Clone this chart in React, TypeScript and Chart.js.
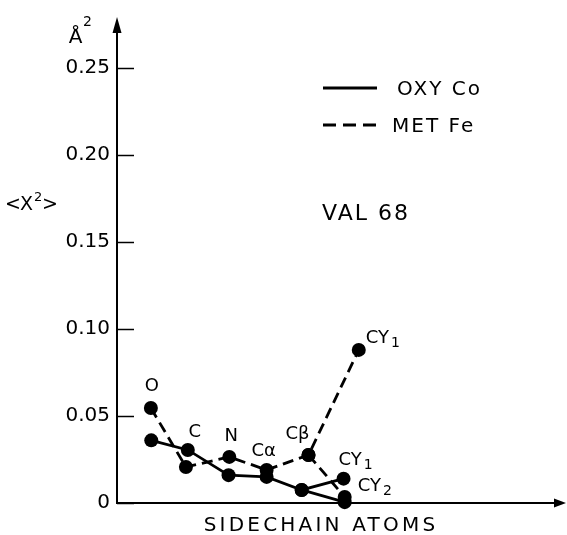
import React, { useEffect, useRef } from "react";
import { Chart, registerables } from "chart.js";

Chart.register(...registerables);

// ---- data ----
const atoms = ["O", "C", "N", "Cα", "Cβ", "CY1", "CY2"];
// OXY Co (solid)
const oxyCoX = [0.9, 1.86, 2.93, 3.93, 4.85, 5.95, 5.98];
const oxyCoY = [0.036, 0.0305, 0.016, 0.015, 0.0075, 0.014, 0.0005];
// MET Fe (dashed)
const metFeX = [0.89, 1.81, 2.95, 3.93, 5.03, 6.35, 5.98];
const metFeY = [0.0546, 0.0207, 0.0265, 0.019, 0.0276, 0.088, 0.0035];
// chain O-C-N-Cα-Cβ-CY1, branch Cβ-CY2
const mainChain = [0, 1, 2, 3, 4, 5];
const branchChain = [4, 6];

const yTicks = [0, 0.05, 0.1, 0.15, 0.2, 0.25];
const yTickLabels = ["0", "0.05", "0.10", "0.15", "0.20", "0.25"];
const seriesNames = ["OXY Co", "MET Fe"];
const panelLabel = "VAL 68";
const xTitle = "SIDECHAIN ATOMS";

const X_MAX = 11.53;
const Y_MAX = 0.2707;

const FONT = "'DejaVu Sans', sans-serif";

const pts = (xs: number[], ys: number[], idx: number[]) =>
  idx.map((i) => ({ x: xs[i], y: ys[i] }));

// label placement (styling): series 0 = OXY Co, 1 = MET Fe
const pointLabels = [
  { atom: 0, series: 1, dx: 1, dy: -22, align: "center", text: "O", sub: "" },
  { atom: 1, series: 0, dx: 7, dy: -18, align: "center", text: "C", sub: "" },
  { atom: 2, series: 1, dx: 2, dy: -21, align: "center", text: "N", sub: "" },
  { atom: 3, series: 1, dx: -3, dy: -19, align: "center", text: "Cα", sub: "" },
  { atom: 4, series: 1, dx: -11, dy: -21, align: "center", text: "Cβ", sub: "" },
  { atom: 5, series: 1, dx: 7, dy: -13, align: "left", text: "CY", sub: "1" },
  { atom: 5, series: 0, dx: -5, dy: -20, align: "left", text: "CY", sub: "1" },
  { atom: 6, series: 0, dx: 13, dy: -17, align: "left", text: "CY", sub: "2" },
];

const decorPlugin = {
  id: "decor",
  afterDraw(chart: any) {
    const ctx = chart.ctx as CanvasRenderingContext2D;
    const { left, top, right, bottom } = chart.chartArea;
    const xs = chart.scales.x;
    const ys = chart.scales.y;
    ctx.save();
    ctx.fillStyle = "#000";
    ctx.strokeStyle = "#000";

    // tick marks pointing inward
    ctx.lineWidth = 1.5;
    yTicks.forEach((v) => {
      const py = Math.round(ys.getPixelForValue(v)) + 0.5;
      ctx.beginPath();
      ctx.moveTo(left, py);
      ctx.lineTo(left + 17, py);
      ctx.stroke();
    });

    // arrows
    ctx.beginPath();
    ctx.moveTo(left, top - 15);
    ctx.lineTo(left - 4.5, top + 1);
    ctx.lineTo(left + 4.5, top + 1);
    ctx.closePath();
    ctx.fill();
    ctx.beginPath();
    ctx.moveTo(right + 10, bottom);
    ctx.lineTo(right - 2, bottom - 4.5);
    ctx.lineTo(right - 2, bottom + 4.5);
    ctx.closePath();
    ctx.fill();

    // unit Å²
    ctx.textBaseline = "alphabetic";
    ctx.textAlign = "center";
    ctx.font = `20px ${FONT}`;
    ctx.fillText("Å", 75.5, 43);
    ctx.textAlign = "left";
    ctx.font = `14px ${FONT}`;
    ctx.fillText("2", 83, 26);

    // y title <X²>
    ctx.font = `19px ${FONT}`;
    (ctx as any).letterSpacing = "0px";
    ctx.fillText("<", 5, 210);
    ctx.fillText("X", 20, 210);
    ctx.font = `13px ${FONT}`;
    ctx.fillText("2", 34, 201);
    ctx.font = `19px ${FONT}`;
    ctx.fillText(">", 42, 210);

    // legend
    ctx.lineWidth = 2.8;
    ctx.beginPath();
    ctx.moveTo(323, 88);
    ctx.lineTo(377, 88);
    ctx.stroke();
    ctx.setLineDash([13, 7]);
    ctx.beginPath();
    ctx.moveTo(323, 125);
    ctx.lineTo(377, 125);
    ctx.stroke();
    ctx.setLineDash([]);
    ctx.font = `20px ${FONT}`;
    (ctx as any).letterSpacing = "2px";
    ctx.fillText(seriesNames[0], 397, 95);
    ctx.fillText(seriesNames[1], 392, 132);

    // panel label
    ctx.font = `22px ${FONT}`;
    (ctx as any).letterSpacing = "2px";
    ctx.fillText(panelLabel, 322, 220);

    // x title
    ctx.font = `20px ${FONT}`;
    (ctx as any).letterSpacing = "3.2px";
    ctx.textAlign = "left";
    const w = ctx.measureText(xTitle).width;
    ctx.fillText(xTitle, 321 - w / 2, 531);

    // point labels
    (ctx as any).letterSpacing = "0px";
    pointLabels.forEach((l) => {
      const xsArr = l.series === 0 ? oxyCoX : metFeX;
      const ysArr = l.series === 0 ? oxyCoY : metFeY;
      const px = xs.getPixelForValue(xsArr[l.atom]) + l.dx;
      const py = ys.getPixelForValue(ysArr[l.atom]) + l.dy;
      ctx.font = `18px ${FONT}`;
      if (l.align === "center") {
        ctx.textAlign = "center";
        ctx.textBaseline = "middle";
        ctx.fillText(l.text, px, py);
      } else {
        ctx.textAlign = "left";
        ctx.textBaseline = "alphabetic";
        ctx.fillText(l.text, px, py + 6);
        const tw = ctx.measureText(l.text).width;
        ctx.font = `14px ${FONT}`;
        ctx.fillText(l.sub, px + tw + 2, py + 10);
      }
    });
    ctx.restore();
  },
};

export default function App() {
  const ref = useRef<HTMLCanvasElement | null>(null);
  useEffect(() => {
    if (!ref.current) return;
    const common = {
      borderColor: "#000",
      borderWidth: 2.8,
      pointRadius: 7,
      pointHoverRadius: 7,
      pointBackgroundColor: "#000",
      pointBorderWidth: 0,
      showLine: true,
      tension: 0,
      fill: false,
      clip: false as any,
    };
    const chart = new Chart(ref.current, {
      type: "line",
      data: {
        datasets: [
          { ...common, label: seriesNames[0], data: pts(oxyCoX, oxyCoY, mainChain) },
          { ...common, label: seriesNames[0] + " branch", data: pts(oxyCoX, oxyCoY, branchChain) },
          { ...common, label: seriesNames[1], borderDash: [11, 6], data: pts(metFeX, metFeY, mainChain) },
          { ...common, label: seriesNames[1] + " branch", borderDash: [11, 6], data: pts(metFeX, metFeY, branchChain) },
        ],
      },
      options: {
        animation: false,
        responsive: false,
        devicePixelRatio: 1,
        layout: { padding: { top: 32, right: 11, left: 0, bottom: 0 } },
        plugins: { legend: { display: false }, tooltip: { enabled: false } },
        events: [],
        scales: {
          x: {
            type: "linear",
            min: 0,
            max: X_MAX,
            ticks: { display: false },
            grid: { display: false, drawTicks: false },
            border: { display: true, color: "#000", width: 2 },
            afterFit: (s: any) => {
              s.height = 32;
            },
          },
          y: {
            type: "linear",
            min: 0,
            max: Y_MAX,
            afterBuildTicks: (s: any) => {
              s.ticks = yTicks.map((v) => ({ value: v }));
            },
            ticks: {
              color: "#000",
              padding: 7,
              font: { family: "DejaVu Sans", size: 20 },
              callback: (v: any) => {
                const i = yTicks.findIndex((t) => Math.abs(t - Number(v)) < 1e-9);
                return i >= 0 ? yTickLabels[i] : "";
              },
            },
            grid: { display: false, drawTicks: false },
            border: { display: true, color: "#000", width: 2 },
            afterFit: (s: any) => {
              s.width = 117;
            },
          },
        },
      },
      plugins: [decorPlugin],
    });
    return () => chart.destroy();
  }, []);
  return (
    <div style={{ position: "absolute", left: 0, top: 0, width: 567, height: 535, background: "#fff" }}>
      <canvas ref={ref} width={567} height={535} style={{ width: 567, height: 535, display: "block" }} />
    </div>
  );
}
